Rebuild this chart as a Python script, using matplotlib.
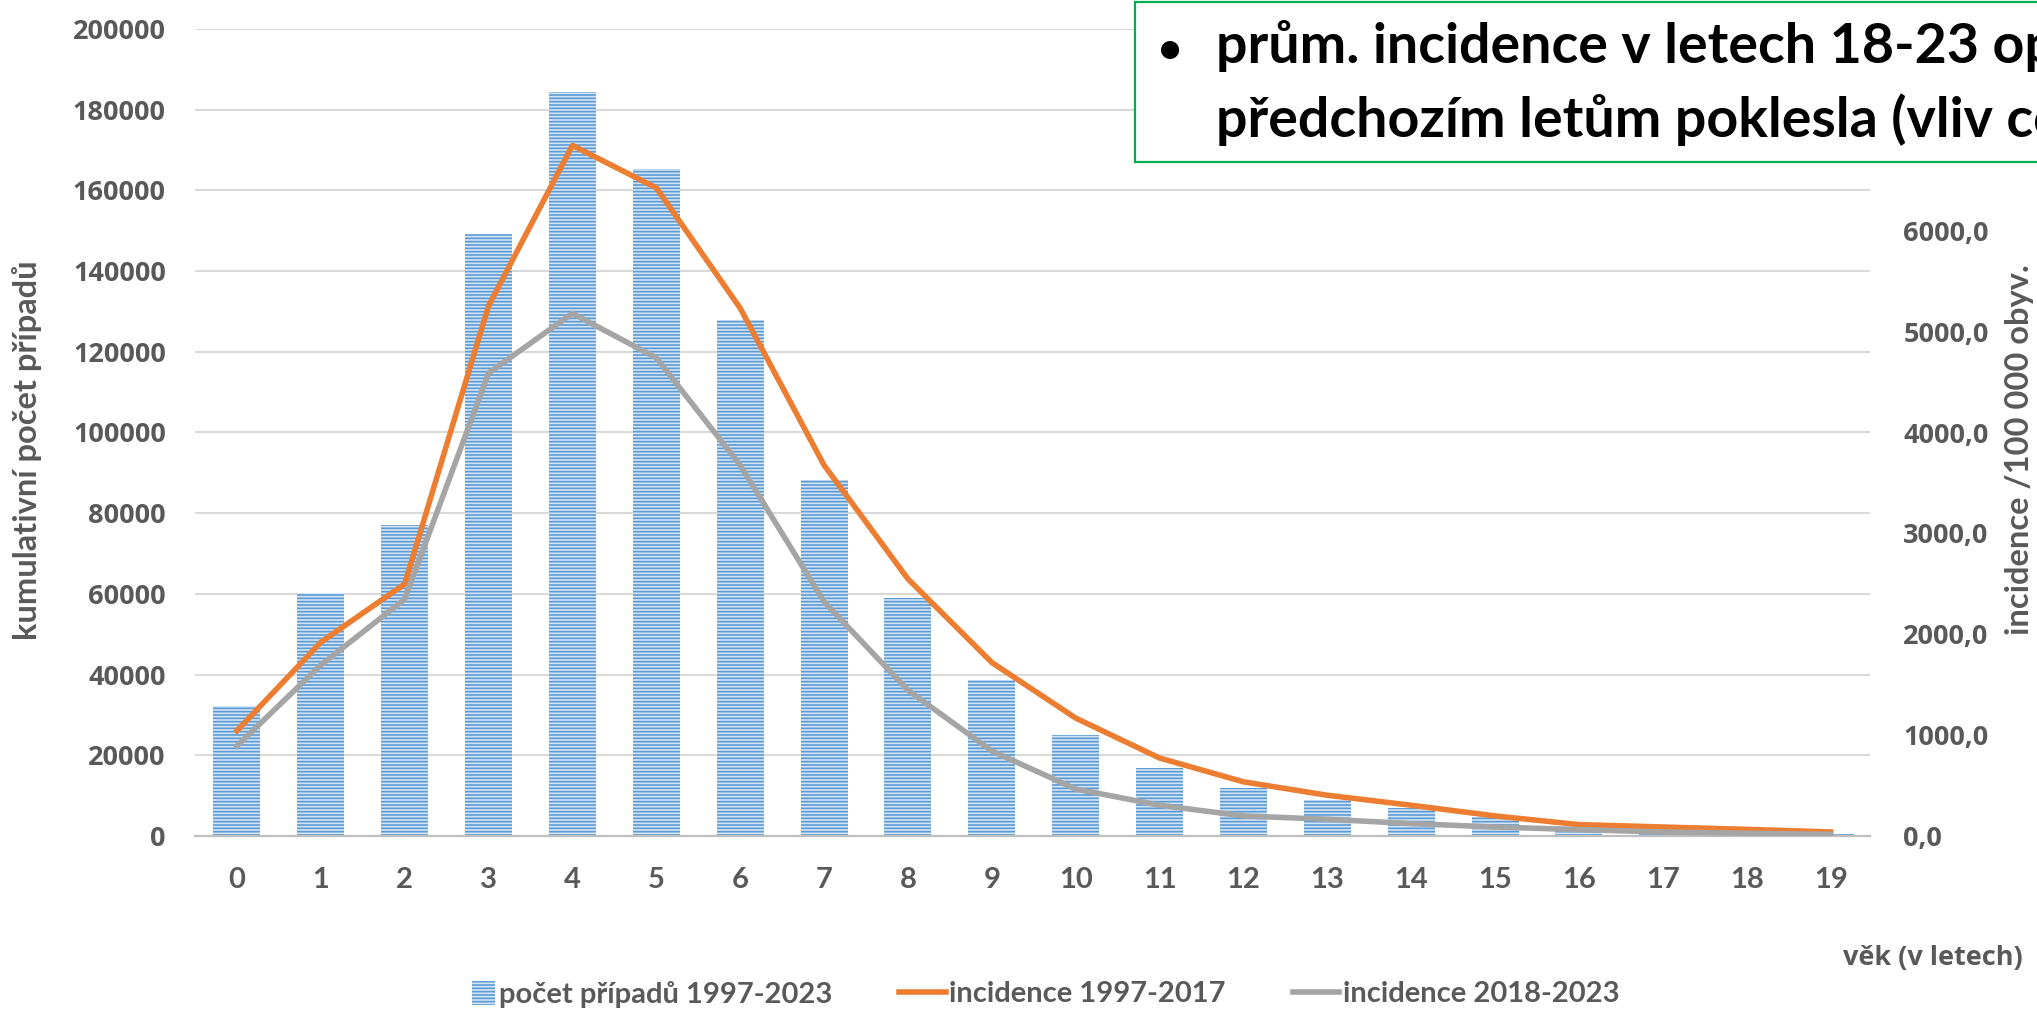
import matplotlib.pyplot as plt
from matplotlib.patches import Rectangle
from matplotlib.legend_handler import HandlerPatch, update_from_first_child

# data
vek = list(range(20))
pocet_pripadu = [32100, 60200, 77000, 149300, 184300, 165300, 128000, 88200, 59100, 38600,
                 25100, 16900, 11800, 8900, 7000, 4700, 2500, 1600, 1000, 600]
incidence_97_17 = [1043, 1921, 2498, 5256, 6846, 6425, 5232, 3676, 2548, 1720,
                   1169, 773, 537, 404, 305, 199, 113, 89, 66, 40]
incidence_18_23 = [893, 1695, 2347, 4589, 5181, 4740, 3676, 2322, 1445, 843,
                   466, 305, 199, 166, 123, 89, 63, 40, 27, 17]
left_ticks = list(range(0, 200001, 20000))
right_ticks = list(range(0, 6001, 1000))

GRAY_TXT = '#595959'
CALIBRI = ['Lato', 'DejaVu Sans']       # nejblizsi nahrada za Calibri
SEGOE = ['Open Sans', 'DejaVu Sans']    # ciselne popisky os
W, H = 2037, 1009

plt.rcParams['hatch.linewidth'] = 1.2


# maly ctverecek v legende misto dlouheho obdelniku
def small_patch(legend, orig_handle, xdescent, ydescent, width, height, fontsize):
    s = height * 1.15
    return Rectangle((-xdescent + width - s, -ydescent - 0.1 * height), s, s)


fig = plt.figure(figsize=(W / 100, H / 100), dpi=100)
ax = fig.add_axes([195 / W, 1 - 836 / H, 1675 / W, 807 / H])

# sloupce
bars = ax.bar(vek, pocet_pripadu, width=0.56, color='#D3E4F4', edgecolor='#5B9BD5',
              linewidth=0, hatch='-----', zorder=2, label='počet případů 1997-2023')
ax.set_xlim(-0.5, 19.47)
ax.set_ylim(0, 200000)
ax.set_yticks(left_ticks)
ax.set_yticklabels([str(v) for v in left_ticks])
ax.set_xticks(vek)
ax.set_xticklabels([str(v) for v in vek])
ax.grid(axis='y', color='#D9D9D9', linewidth=1.5, zorder=0)
ax.set_axisbelow(True)
for s in ['top', 'left', 'right']:
    ax.spines[s].set_visible(False)
ax.spines['bottom'].set_color('#BFBFBF')
ax.spines['bottom'].set_linewidth(1.6)
ax.tick_params(axis='y', length=0, pad=21, labelcolor=GRAY_TXT)
ax.tick_params(axis='x', length=0, pad=22, labelcolor=GRAY_TXT)
for t in ax.get_yticklabels():
    t.set_family(SEGOE)
    t.set_fontweight('bold')
    t.set_fontsize(19.5)
for t in ax.get_xticklabels():
    t.set_family(CALIBRI)
    t.set_fontweight('bold')
    t.set_fontsize(21)

# incidence na druhe ose
ax2 = ax.twinx()
ax2.plot(vek, incidence_97_17, color='#ED7D31', linewidth=4.0, solid_joinstyle='round',
         label='incidence 1997-2017', zorder=3)
ax2.plot(vek, incidence_18_23, color='#A5A5A5', linewidth=4.0, solid_joinstyle='round',
         label='incidence 2018-2023', zorder=3)
ax2.set_ylim(0, 8000)
ax2.set_yticks(right_ticks)
ax2.set_yticklabels([f'{v:.1f}'.replace('.', ',') for v in right_ticks])
for s in ['top', 'left', 'right', 'bottom']:
    ax2.spines[s].set_visible(False)
ax2.tick_params(axis='y', length=0, pad=24, labelcolor=GRAY_TXT)
for t in ax2.get_yticklabels():
    t.set_family(SEGOE)
    t.set_fontweight('bold')
    t.set_fontsize(19.5)

# popisky os
fig.text(27 / W, 1 - 450 / H, 'kumulativní počet případů', rotation=90, ha='center', va='center',
         family=CALIBRI, fontweight='bold', fontsize=23.5, color=GRAY_TXT)
fig.text(2020 / W, 1 - 450 / H, 'incidence /100 000 obyv.', rotation=90, ha='center', va='center',
         family=CALIBRI, fontweight='bold', fontsize=23.5, color=GRAY_TXT)
fig.text(1843 / W, 1 - 958 / H, 'věk (v letech)', ha='left', va='center',
         family=SEGOE, fontsize=19.5, fontweight='bold', color=GRAY_TXT)

# legenda
h1, l1 = ax.get_legend_handles_labels()
h2, l2 = ax2.get_legend_handles_labels()
leg = fig.legend(h1 + h2, l1 + l2, loc='center', bbox_to_anchor=(1034 / W, 1 - 994 / H), ncol=3,
                 frameon=False, prop={'family': CALIBRI, 'weight': 'bold', 'size': 21},
                 handlelength=1.6, handletextpad=0.12, columnspacing=2.3,
                 handler_map={bars: HandlerPatch(patch_func=small_patch,
                                                 update_func=update_from_first_child)})
for t in leg.get_texts():
    t.set_color(GRAY_TXT)

# ramecek s textem
box = Rectangle((1135 / W, 1 - 162 / H), 0.5, 160.5 / H, transform=fig.transFigure,
                facecolor='white', edgecolor='#00B050', linewidth=1.6, zorder=5)
fig.patches.append(box)
fig.text(1158 / W, 1 - 63 / H, '•', ha='left', va='baseline', fontsize=30,
         family=CALIBRI, fontweight='bold', color='black', zorder=6)
fig.text(1216 / W, 1 - 63 / H, 'prům. incidence v letech 18-23 op', ha='left', va='baseline',
         fontsize=40, family=CALIBRI, fontweight='bold', color='black', zorder=6)
fig.text(1216 / W, 1 - 137 / H, 'předchozím letům poklesla (vliv co', ha='left', va='baseline',
         fontsize=40, family=CALIBRI, fontweight='bold', color='black', zorder=6)

fig.savefig('out.png', dpi=100)
